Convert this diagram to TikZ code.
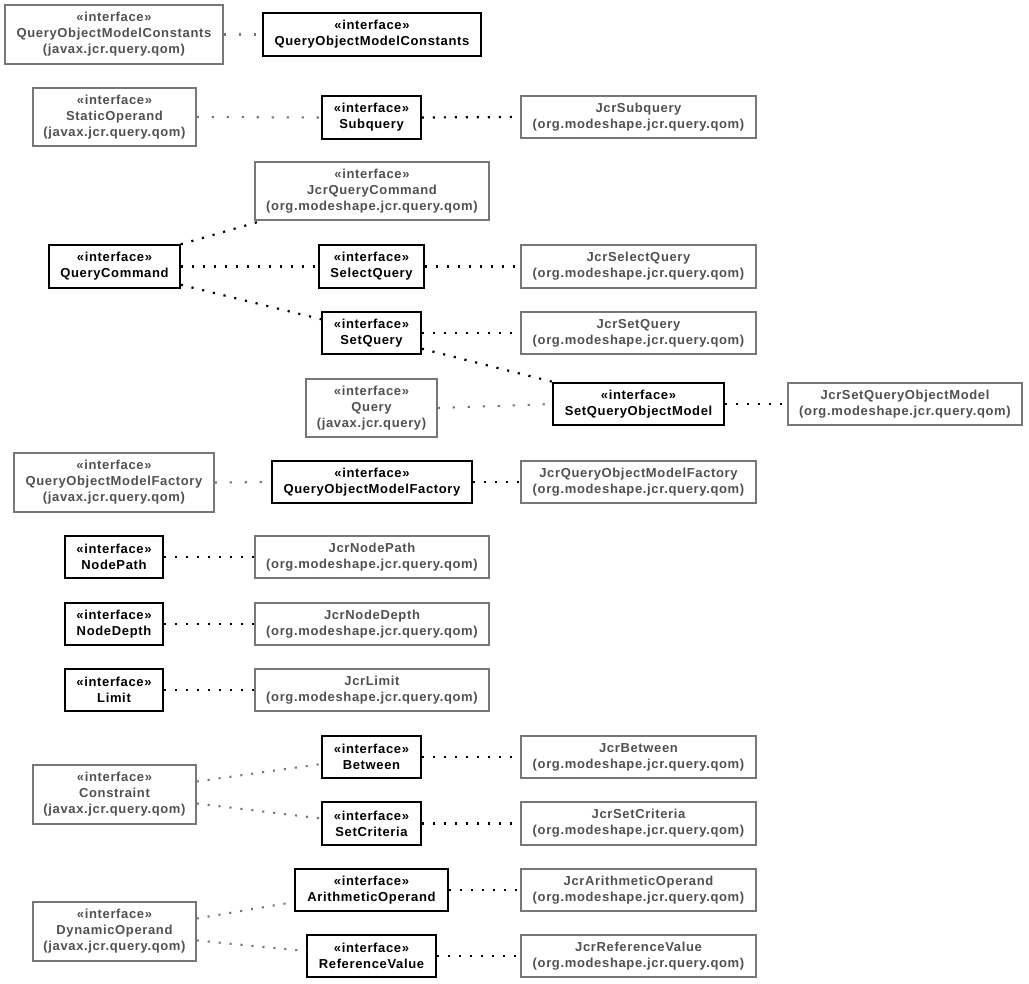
\documentclass[tikz,border=0pt]{standalone}
\usepackage{fontspec}
\setmainfont{Liberation Sans}[LetterSpace=5]
\usetikzlibrary{calc}
\definecolor{boxgray}{HTML}{777777}
\definecolor{txtgray}{HTML}{505050}
\definecolor{linegray}{HTML}{777777}
\tikzset{
  umlbox/.style={rectangle, inner sep=0pt, align=center, font=\fontsize{13}{16}\selectfont\bfseries},
  ibox/.style={umlbox, draw=black, line width=1.5pt, text=black},
  gbox/.style={umlbox, draw=boxgray, line width=1.4pt, text=txtgray},
  bdot/.style={draw=black, line width=2.2pt, dash pattern=on 2.2pt off 8.8pt},
  gdot/.style={draw=linegray, line width=2.1pt, dash pattern=on 2.1pt off 12.9pt},
  gdota/.style={draw=linegray, line width=2.1pt, dash pattern=on 2.1pt off 8.9pt},
}
\begin{document}
\begin{tikzpicture}[x=1pt,y=-1pt]
\useasboundingbox (0,0) rectangle (1029,984);
% row 1
\node[gbox, minimum width=218, minimum height=59] (gqomc) at (114,34.5) {«interface»\\QueryObjectModelConstants\\(javax.jcr.query.qom)};
\node[ibox, minimum width=218, minimum height=43] (qomc) at (372,34.5) {«interface»\\QueryObjectModelConstants};
% row 2
\node[gbox, minimum width=163, minimum height=58] (stat) at (114.5,117) {«interface»\\StaticOperand\\(javax.jcr.query.qom)};
\node[ibox, minimum width=99, minimum height=43] (subq) at (371.5,117.5) {«interface»\\Subquery};
\node[gbox, minimum width=235, minimum height=42] (jsubq) at (638.5,117) {JcrSubquery\\(org.modeshape.jcr.query.qom)};
% query command group
\node[gbox, minimum width=234, minimum height=58] (jqc) at (372,191) {«interface»\\JcrQueryCommand\\(org.modeshape.jcr.query.qom)};
\node[ibox, minimum width=131, minimum height=43] (qc) at (114.5,266.5) {«interface»\\QueryCommand};
\node[ibox, minimum width=105, minimum height=43] (selq) at (371.5,266.5) {«interface»\\SelectQuery};
\node[gbox, minimum width=235, minimum height=43] (jselq) at (638.5,266.5) {JcrSelectQuery\\(org.modeshape.jcr.query.qom)};
\node[ibox, minimum width=99, minimum height=42] (setq) at (371.5,333) {«interface»\\SetQuery};
\node[gbox, minimum width=235, minimum height=42] (jsetq) at (638.5,333) {JcrSetQuery\\(org.modeshape.jcr.query.qom)};
\node[gbox, minimum width=131, minimum height=58] (query) at (371.5,408) {«interface»\\Query\\(javax.jcr.query)};
\node[ibox, minimum width=171, minimum height=42] (sqom) at (638.5,404) {«interface»\\SetQueryObjectModel};
\node[gbox, minimum width=234, minimum height=42] (jsqom) at (905,404) {JcrSetQueryObjectModel\\(org.modeshape.jcr.query.qom)};
% factory
\node[gbox, minimum width=200, minimum height=59] (gqomf) at (114,482.5) {«interface»\\QueryObjectModelFactory\\(javax.jcr.query.qom)};
\node[ibox, minimum width=200, minimum height=42] (qomf) at (372,482) {«interface»\\QueryObjectModelFactory};
\node[gbox, minimum width=235, minimum height=42] (jqomf) at (638.5,482) {JcrQueryObjectModelFactory\\(org.modeshape.jcr.query.qom)};
% node path, depth, limit
\node[ibox, minimum width=98, minimum height=42] (np) at (114,557) {«interface»\\NodePath};
\node[gbox, minimum width=234, minimum height=42] (jnp) at (372,557) {JcrNodePath\\(org.modeshape.jcr.query.qom)};
\node[ibox, minimum width=98, minimum height=42] (nd) at (114,624) {«interface»\\NodeDepth};
\node[gbox, minimum width=234, minimum height=42] (jnd) at (372,624) {JcrNodeDepth\\(org.modeshape.jcr.query.qom)};
\node[ibox, minimum width=98, minimum height=42] (lim) at (114,690) {«interface»\\Limit};
\node[gbox, minimum width=234, minimum height=42] (jlim) at (372,690) {JcrLimit\\(org.modeshape.jcr.query.qom)};
% constraint
\node[ibox, minimum width=99, minimum height=42] (betw) at (371.5,757) {«interface»\\Between};
\node[gbox, minimum width=235, minimum height=42] (jbetw) at (638.5,757) {JcrBetween\\(org.modeshape.jcr.query.qom)};
\node[ibox, minimum width=99, minimum height=43] (setc) at (371.5,823.5) {«interface»\\SetCriteria};
\node[gbox, minimum width=235, minimum height=43] (jsetc) at (638.5,823.5) {JcrSetCriteria\\(org.modeshape.jcr.query.qom)};
\node[gbox, minimum width=163, minimum height=59] (cons) at (114.5,794.5) {«interface»\\Constraint\\(javax.jcr.query.qom)};
% dynamic operand
\node[ibox, minimum width=153, minimum height=42] (arith) at (371.5,890) {«interface»\\ArithmeticOperand};
\node[gbox, minimum width=235, minimum height=42] (jarith) at (638.5,890) {JcrArithmeticOperand\\(org.modeshape.jcr.query.qom)};
\node[ibox, minimum width=129, minimum height=42] (refv) at (371.5,956) {«interface»\\ReferenceValue};
\node[gbox, minimum width=235, minimum height=42] (jrefv) at (638.5,956) {JcrReferenceValue\\(org.modeshape.jcr.query.qom)};
\node[gbox, minimum width=163, minimum height=59] (dyn) at (114.5,931.5) {«interface»\\DynamicOperand\\(javax.jcr.query.qom)};
% connectors
\draw[gdot] (gqomc.east) -- (qomc.west);
\draw[gdot] (stat.east) -- (subq.west);
\draw[bdot] (subq.east) -- (jsubq.west);
\draw[bdot] (qc.north east) -- ($(jqc.south west)+(8,0)$);
\draw[bdot] (qc.east) -- (selq.west);
\draw[bdot] ($(qc.south east)+(0,-4)$) -- ($(setq.north west)+(0,8)$);
\draw[bdot] (selq.east) -- (jselq.west);
\draw[bdot] (setq.east) -- (jsetq.west);
\draw[bdot] ($(setq.south east)+(0,-6)$) -- ($(sqom.north west)+(2,0)$);
\draw[gdot] (query.east) -- (sqom.west);
\draw[bdot] (sqom.east) -- (jsqom.west);
\draw[gdot] (gqomf.east) -- (qomf.west);
\draw[bdot] (qomf.east) -- (jqomf.west);
\draw[bdot] (np.east) -- (jnp.west);
\draw[bdot] (nd.east) -- (jnd.west);
\draw[bdot] (lim.east) -- (jlim.west);
\draw[gdota] ($(cons.east)+(0,-13)$) -- ($(betw.west)+(0,7)$);
\draw[gdota] ($(cons.east)+(0,9)$) -- ($(setc.west)+(0,-5)$);
\draw[bdot] (betw.east) -- (jbetw.west);
\draw[bdot] (setc.east) -- (jsetc.west);
\draw[gdota] ($(dyn.east)+(0,-13)$) -- ($(arith.west)+(0,12)$);
\draw[gdota] ($(dyn.east)+(0,9)$) -- ($(refv.west)+(0,-5)$);
\draw[bdot] (arith.east) -- (jarith.west);
\draw[bdot] (refv.east) -- (jrefv.west);
\end{tikzpicture}
\end{document}
